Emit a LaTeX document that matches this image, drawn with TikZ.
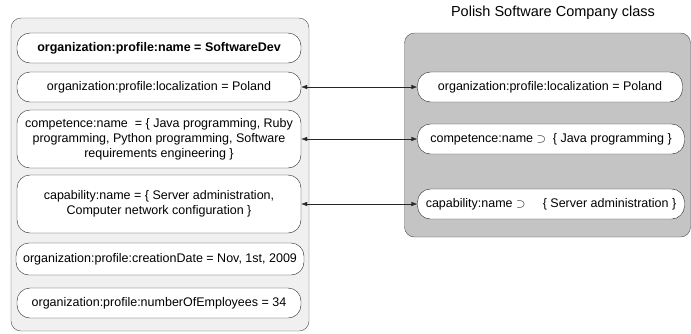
\documentclass[tikz,border=0pt]{standalone}
\usepackage{fontspec}
\setmainfont{Liberation Sans}
\usetikzlibrary{positioning, arrows.meta}
\definecolor{lightp}{RGB}{240,240,240}
\definecolor{darkp}{RGB}{196,196,196}

\begin{document}
\begin{tikzpicture}[x=1pt, y=1pt,
          pn/.style={rounded corners=10pt, draw=black!70, inner sep=0pt},
          bx/.style={rounded corners=13pt, draw=black!85, fill=white, minimum height=30pt,
            minimum width=284pt, inner sep=2pt, align=center, font=\fontsize{12.5}{15}\selectfont},
          <->/.style={{Latex[length=6pt,width=4.5pt]}-{Latex[length=6pt,width=4.5pt]}, black!85}]
        \useasboundingbox (0,0) rectangle (691,-333);
        \node[pn, fill=lightp, minimum width=298pt, minimum height=313pt] (own) at (160,-174.5) {};
        \node[pn, fill=darkp, minimum width=286pt, minimum height=204pt] (cls) at (547.5,-135) {};
        \node[font=\fontsize{14.5}{17}\selectfont] (title) at (553,-13) {Polish Software Company class};
        % left boxes
        \node[bx, font=\fontsize{12.5}{15}\selectfont\bfseries] (b1) at (159,-48) {organization:profile:name = SoftwareDev};
        \node[bx] (b2) at (159,-87) {organization:profile:localization = Poland};
        \node[bx, minimum height=58pt] (b3) at (159,-139) {competence:name\ \ = \{ Java programming, Ruby\\
          programming, Python programming, Software\\ requirements engineering \}};
        \node[bx, minimum height=58pt] (b4) at (159,-204) {capability:name = \{ Server administration,\\
          Computer network configuration \}};
        \node[bx, minimum width=288pt, minimum height=32pt] (b5) at (160,-259) {organization:profile:creationDate = Nov, 1st, 2009};
        \node[bx] (b6) at (159,-303) {organization:profile:numberOfEmployees = 34};
        % right boxes
        \node[bx, minimum width=265pt] (r1) at (550,-87) {organization:profile:localization = Poland};
        \node[bx, minimum width=267pt] (r2) at (551,-139) {competence:name $\supset$\ \ \{ Java programming \}};
        \node[bx, minimum width=267pt] (r3) at (551,-204) {capability:name $\supset$\ \ \ \ \ \{ Server administration \}};
        \draw [<->] (b2) to (r1);
        \draw [<->] (b3) to (r2);
        \draw [<->] (b4) to (r3);
      \end{tikzpicture}
\end{document}
